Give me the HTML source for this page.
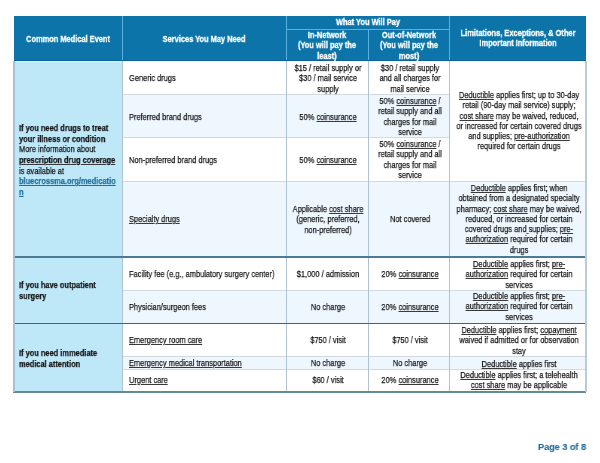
<!DOCTYPE html>
<html><head><meta charset="utf-8"><style>
html,body{margin:0;padding:0;background:#fff;width:600px;height:463px;overflow:hidden;position:relative}
.r{position:absolute}
.t{position:absolute;font-family:"Liberation Sans",sans-serif;font-size:9.9px;line-height:10.3px;color:#141414;white-space:nowrap;transform:scaleX(0.7527272727272727);will-change:transform;-webkit-text-stroke-width:0.25px}
.t.h{color:#ffffff;font-weight:bold;-webkit-text-stroke-width:0.35px;font-size:9.9px;transform:scaleX(0.7527272727272727)}
.lk{color:#1f6f9c}
.lk u{text-decoration-color:#1f6f9c}
u{text-decoration-thickness:0.8px;text-underline-offset:1px;text-decoration-color:#3a3a3a}
.pg{position:absolute;left:538.4px;top:441.7px;-webkit-text-stroke-width:0.15px;font-family:"Liberation Sans",sans-serif;font-size:9.2px;font-weight:bold;color:#236f9d;white-space:nowrap;will-change:transform;transform:scaleX(0.99);transform-origin:0 0}
</style></head><body>
<div class="r" style="left:13.5px;top:16px;width:572.5px;height:44.5px;background:#0c74a8"></div>
<div class="r" style="left:13.5px;top:60.5px;width:109.0px;height:331.3px;background:#bee7f8"></div>
<div class="r" style="left:122.5px;top:60.5px;width:327.2px;height:33.8px;background:#fff"></div>
<div class="r" style="left:122.5px;top:94.3px;width:327.2px;height:43.000000000000014px;background:#eff7fe"></div>
<div class="r" style="left:122.5px;top:137.3px;width:327.2px;height:44.0px;background:#fff"></div>
<div class="r" style="left:122.5px;top:181.3px;width:327.2px;height:75.39999999999998px;background:#eff7fe"></div>
<div class="r" style="left:122.5px;top:256.7px;width:327.2px;height:33.30000000000001px;background:#fff"></div>
<div class="r" style="left:122.5px;top:290px;width:327.2px;height:33.30000000000001px;background:#eff7fe"></div>
<div class="r" style="left:122.5px;top:323.3px;width:327.2px;height:32.80000000000001px;background:#fff"></div>
<div class="r" style="left:122.5px;top:356.1px;width:327.2px;height:12.899999999999977px;background:#eff7fe"></div>
<div class="r" style="left:122.5px;top:369px;width:327.2px;height:22.80000000000001px;background:#fff"></div>
<div class="r" style="left:449.7px;top:60.5px;width:136.3px;height:120.80000000000001px;background:#fff"></div>
<div class="r" style="left:449.7px;top:181.3px;width:136.3px;height:75.39999999999998px;background:#eff7fe"></div>
<div class="r" style="left:449.7px;top:256.7px;width:136.3px;height:33.30000000000001px;background:#fff"></div>
<div class="r" style="left:449.7px;top:290px;width:136.3px;height:33.30000000000001px;background:#eff7fe"></div>
<div class="r" style="left:449.7px;top:323.3px;width:136.3px;height:32.80000000000001px;background:#fff"></div>
<div class="r" style="left:449.7px;top:356.1px;width:136.3px;height:12.899999999999977px;background:#eff7fe"></div>
<div class="r" style="left:449.7px;top:369px;width:136.3px;height:22.80000000000001px;background:#fff"></div>
<div class="r" style="left:122.0px;top:16px;width:1px;height:44.5px;background:#5cb0e0"></div>
<div class="r" style="left:285.8px;top:16px;width:1px;height:44.5px;background:#5cb0e0"></div>
<div class="r" style="left:367.5px;top:29.4px;width:1px;height:31.1px;background:#5cb0e0"></div>
<div class="r" style="left:449.2px;top:16px;width:1px;height:44.5px;background:#5cb0e0"></div>
<div class="r" style="left:286.3px;top:28.9px;width:163.39999999999998px;height:1px;background:#5cb0e0"></div>
<div class="r" style="left:122.5px;top:93.8px;width:327.2px;height:1px;background:#d0dae0"></div>
<div class="r" style="left:122.5px;top:136.8px;width:327.2px;height:1px;background:#d0dae0"></div>
<div class="r" style="left:122.5px;top:289.5px;width:463.5px;height:1px;background:#d0dae0"></div>
<div class="r" style="left:122.5px;top:355.6px;width:463.5px;height:1px;background:#d0dae0"></div>
<div class="r" style="left:122.5px;top:368.5px;width:463.5px;height:1px;background:#d0dae0"></div>
<div class="r" style="left:122.5px;top:180.8px;width:463.5px;height:1px;background:#d0dae0"></div>
<div class="r" style="left:122.0px;top:60.5px;width:1px;height:331.3px;background:#aec3cf"></div>
<div class="r" style="left:285.8px;top:60.5px;width:1px;height:331.3px;background:#aec3cf"></div>
<div class="r" style="left:367.5px;top:60.5px;width:1px;height:331.3px;background:#aec3cf"></div>
<div class="r" style="left:449.2px;top:60.5px;width:1px;height:331.3px;background:#aec3cf"></div>
<div class="r" style="left:13.5px;top:255.95px;width:572.5px;height:1.7px;background:#4d7b96"></div>
<div class="r" style="left:13.5px;top:322.85px;width:572.5px;height:1.3px;background:#336888"></div>
<div class="r" style="left:13.2px;top:390.8px;width:572.8px;height:1.8px;background:#64879d"></div>
<div class="r" style="left:13px;top:60.5px;width:1.5px;height:331.3px;background:#a8c0d0"></div>
<div class="r" style="left:585.2px;top:60.5px;width:1.6px;height:331.3px;background:#bccad3"></div>
<div class="r" style="left:13.5px;top:59.6px;width:572.5px;height:1.1px;background:#0a6396"></div>
<div class="r" style="left:15.0px;top:61.1px;width:107.0px;height:1px;background:#dcf3fc"></div>
<div class="t h" style="left:-132.0px;top:33.52px;width:400px;text-align:center;transform-origin:50% 0">Common Medical Event</div>
<div class="t h" style="left:4.400000000000006px;top:33.52px;width:400px;text-align:center;transform-origin:50% 0">Services You May Need</div>
<div class="t h" style="left:168.0px;top:17.12px;width:400px;text-align:center;transform-origin:50% 0">What You Will Pay</div>
<div class="t h" style="left:127.14999999999998px;top:29.52px;width:400px;text-align:center;transform-origin:50% 0">In-Network<br>(You will pay the<br>least)</div>
<div class="t h" style="left:208.85000000000002px;top:29.52px;width:400px;text-align:center;transform-origin:50% 0">Out-of-Network<br>(You will pay the<br>most)</div>
<div class="t h" style="left:317.85px;top:28.02px;width:400px;text-align:center;transform-origin:50% 0">Limitations, Exceptions, &amp; Other<br>Important Information</div>
<div class="t " style="left:19.4px;top:122.55px;width:400px;text-align:left;transform-origin:0 0;line-height:10.63px"><b>If you need drugs to treat</b><br><b>your illness or condition</b><br>More information about<br><b><u>prescription drug coverage</u></b><br>is available at<br><b class="lk"><u>bluecrossma.org/medicatio</u></b><br><b class="lk"><u>n</u></b></div>
<div class="t " style="left:19.4px;top:280.02px;width:400px;text-align:left;transform-origin:0 0;line-height:10.7px"><b>If you have outpatient</b><br><b>surgery</b></div>
<div class="t " style="left:19.4px;top:347.57px;width:400px;text-align:left;transform-origin:0 0;line-height:10.6px"><b>If you need immediate</b><br><b>medical attention</b></div>
<div class="t " style="left:129px;top:72.72px;width:400px;text-align:left;transform-origin:0 0">Generic drugs</div>
<div class="t " style="left:129px;top:111.92px;width:400px;text-align:left;transform-origin:0 0">Preferred brand drugs</div>
<div class="t " style="left:129px;top:155.22px;width:400px;text-align:left;transform-origin:0 0">Non-preferred brand drugs</div>
<div class="t " style="left:129px;top:214.22px;width:400px;text-align:left;transform-origin:0 0"><u>Specialty drugs</u></div>
<div class="t " style="left:129px;top:269.12px;width:400px;text-align:left;transform-origin:0 0">Facility fee (e.g., ambulatory surgery center)</div>
<div class="t " style="left:129px;top:301.72px;width:400px;text-align:left;transform-origin:0 0">Physician/surgeon fees</div>
<div class="t " style="left:129px;top:335.22px;width:400px;text-align:left;transform-origin:0 0"><u>Emergency room care</u></div>
<div class="t " style="left:129px;top:357.92px;width:400px;text-align:left;transform-origin:0 0"><u>Emergency medical transportation</u></div>
<div class="t " style="left:129px;top:375.22px;width:400px;text-align:left;transform-origin:0 0"><u>Urgent care</u></div>
<div class="t " style="left:128.14999999999998px;top:62.52px;width:400px;text-align:center;transform-origin:50% 0">$15 / retail supply or<br>$30 / mail service<br>supply</div>
<div class="t " style="left:209.55px;top:62.52px;width:400px;text-align:center;transform-origin:50% 0">$30 / retail supply<br>and all charges for<br>mail service</div>
<div class="t " style="left:128.14999999999998px;top:111.92px;width:400px;text-align:center;transform-origin:50% 0">50% <u>coinsurance</u></div>
<div class="t " style="left:209.55px;top:95.52px;width:400px;text-align:center;transform-origin:50% 0">50% <u>coinsurance</u> /<br>retail supply and all<br>charges for mail<br>service</div>
<div class="t " style="left:128.14999999999998px;top:155.22px;width:400px;text-align:center;transform-origin:50% 0">50% <u>coinsurance</u></div>
<div class="t " style="left:209.55px;top:139.32px;width:400px;text-align:center;transform-origin:50% 0">50% <u>coinsurance</u> /<br>retail supply and all<br>charges for mail<br>service</div>
<div class="t " style="left:128.14999999999998px;top:203.72px;width:400px;text-align:center;transform-origin:50% 0">Applicable <u>cost share</u><br>(generic, preferred,<br>non-preferred)</div>
<div class="t " style="left:210.05px;top:214.22px;width:400px;text-align:center;transform-origin:50% 0">Not covered</div>
<div class="t " style="left:128.14999999999998px;top:269.12px;width:400px;text-align:center;transform-origin:50% 0">$1,000 / admission</div>
<div class="t " style="left:209.55px;top:269.12px;width:400px;text-align:center;transform-origin:50% 0">20% <u>coinsurance</u></div>
<div class="t " style="left:128.14999999999998px;top:301.72px;width:400px;text-align:center;transform-origin:50% 0">No charge</div>
<div class="t " style="left:209.55px;top:301.72px;width:400px;text-align:center;transform-origin:50% 0">20% <u>coinsurance</u></div>
<div class="t " style="left:128.14999999999998px;top:335.22px;width:400px;text-align:center;transform-origin:50% 0">$750 / visit</div>
<div class="t " style="left:209.55px;top:335.22px;width:400px;text-align:center;transform-origin:50% 0">$750 / visit</div>
<div class="t " style="left:128.14999999999998px;top:357.92px;width:400px;text-align:center;transform-origin:50% 0">No charge</div>
<div class="t " style="left:209.55px;top:357.92px;width:400px;text-align:center;transform-origin:50% 0">No charge</div>
<div class="t " style="left:128.14999999999998px;top:375.22px;width:400px;text-align:center;transform-origin:50% 0">$60 / visit</div>
<div class="t " style="left:209.55px;top:375.22px;width:400px;text-align:center;transform-origin:50% 0">20% <u>coinsurance</u></div>
<div class="t " style="left:318.55000000000007px;top:90.42px;width:400px;text-align:center;transform-origin:50% 0"><u>Deductible</u> applies first; up to 30-day<br>retail (90-day mail service) supply;<br><u>cost share</u> may be waived, reduced,<br>or increased for certain covered drugs<br>and supplies; <u>pre-authorization</u><br>required for certain drugs</div>
<div class="t " style="left:318.55000000000007px;top:182.82px;width:400px;text-align:center;transform-origin:50% 0"><u>Deductible</u> applies first; when<br>obtained from a designated specialty<br>pharmacy; <u>cost share</u> may be waived,<br>reduced, or increased for certain<br>covered drugs and<u> </u>supplies; <u>pre-</u><br><u>authorization</u> required for certain<br>drugs</div>
<div class="t " style="left:318.55000000000007px;top:258.62px;width:400px;text-align:center;transform-origin:50% 0"><u>Deductible</u> applies first; <u>pre-</u><br><u>authorization</u> required for certain<br>services</div>
<div class="t " style="left:318.55000000000007px;top:290.62px;width:400px;text-align:center;transform-origin:50% 0"><u>Deductible</u> applies first; <u>pre-</u><br><u>authorization</u> required for certain<br>services</div>
<div class="t " style="left:318.55000000000007px;top:324.82px;width:400px;text-align:center;transform-origin:50% 0"><u>Deductible</u> applies first; <u>copayment</u><br>waived if admitted or for observation<br>stay</div>
<div class="t " style="left:318.55000000000007px;top:358.62px;width:400px;text-align:center;transform-origin:50% 0"><u>Deductible</u> applies first</div>
<div class="t " style="left:318.55000000000007px;top:370.32px;width:400px;text-align:center;transform-origin:50% 0"><u>Deductible</u> applies first; a telehealth<br><u>cost share</u> may be applicable</div>
<div class="pg">Page 3 of 8</div>
</body></html>
